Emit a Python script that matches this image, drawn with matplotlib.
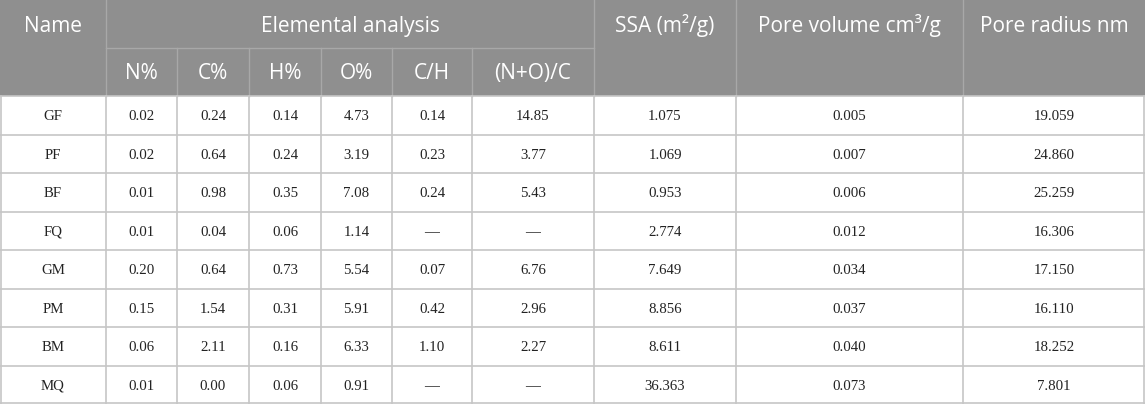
import matplotlib
matplotlib.use("Agg")
import matplotlib.pyplot as plt

names = ["GF", "PF", "BF", "FQ", "GM", "PM", "BM", "MQ"]
n_pct = [0.02, 0.02, 0.01, 0.01, 0.20, 0.15, 0.06, 0.01]
c_pct = [0.24, 0.64, 0.98, 0.04, 0.64, 1.54, 2.11, 0.00]
h_pct = [0.14, 0.24, 0.35, 0.06, 0.73, 0.31, 0.16, 0.06]
o_pct = [4.73, 3.19, 7.08, 1.14, 5.54, 5.91, 6.33, 0.91]
c_h = [0.14, 0.23, 0.24, None, 0.07, 0.42, 1.10, None]
no_c = [14.85, 3.77, 5.43, None, 6.76, 2.96, 2.27, None]
ssa = [1.075, 1.069, 0.953, 2.774, 7.649, 8.856, 8.611, 36.363]
pore_vol = [0.005, 0.007, 0.006, 0.012, 0.034, 0.037, 0.040, 0.073]
pore_rad = [19.059, 24.860, 25.259, 16.306, 17.150, 16.110, 18.252, 7.801]

top_headers = ["Name", "Elemental analysis", "SSA (m²/g)", "Pore volume cm³/g", "Pore radius nm"]
sub_headers = ["N%", "C%", "H%", "O%", "C/H", "(N+O)/C"]

W, H = 1145, 404
col_x = [0, 106, 177, 249, 321, 392, 472, 594, 736, 963, 1145]
h1, h2 = 48, 96
row_h = (H - h2) / len(names)

hdr_bg = "#8f8f8f"
hdr_line = "#a8a8a8"
grid = "#c6c6c6"

fig = plt.figure(figsize=(W / 100, H / 100), dpi=100)
ax = fig.add_axes([0, 0, 1, 1])
ax.set_xlim(0, W)
ax.set_ylim(H, 0)
ax.axis("off")

ax.add_patch(plt.Rectangle((0, 0), W, h2, color=hdr_bg, lw=0, zorder=0))

# header lines
for xi in [col_x[1], col_x[7], col_x[8], col_x[9]]:
    ax.plot([xi, xi], [0, h2], color=hdr_line, lw=1, zorder=1)
ax.plot([col_x[1], col_x[7]], [h1, h1], color=hdr_line, lw=1, zorder=1)
for xi in col_x[2:7]:
    ax.plot([xi, xi], [h1, h2], color=hdr_line, lw=1, zorder=1)

hfont = dict(family=["Open Sans", "DejaVu Sans"], fontsize=15, color="white",
             ha="center", va="baseline")
yb1 = 32
yb2 = 79
ax.text((col_x[0] + col_x[1]) / 2, yb1, top_headers[0], **hfont)
ax.text((col_x[1] + col_x[7]) / 2, yb1, top_headers[1], **hfont)
ax.text((col_x[7] + col_x[8]) / 2, yb1, top_headers[2], **hfont)
ax.text((col_x[8] + col_x[9]) / 2, yb1, top_headers[3], **hfont)
ax.text((col_x[9] + col_x[10]) / 2, yb1, top_headers[4], **hfont)
for i, s in enumerate(sub_headers):
    ax.text((col_x[i + 1] + col_x[i + 2]) / 2, yb2, s, **hfont)

# data grid
for r in range(len(names) + 1):
    y = h2 + r * row_h
    if r == len(names):
        y = H - 0.8
    ax.plot([0, W], [y, y], color=grid, lw=1.2, zorder=1)
for xi in col_x:
    xx = min(max(xi, 0.8), W - 0.8)
    ax.plot([xx, xx], [h2, H], color=grid, lw=1.2, zorder=1)

def fmt(v, d):
    return "—" if v is None else f"{v:.{d}f}"

dfont = dict(family=["Liberation Serif", "DejaVu Serif"], fontsize=10.7,
             color="#222222", ha="center", va="baseline")
cols = [(names, None), (n_pct, 2), (c_pct, 2), (h_pct, 2), (o_pct, 2),
        (c_h, 2), (no_c, 2), (ssa, 3), (pore_vol, 3), (pore_rad, 3)]
for r in range(len(names)):
    yb = h2 + r * row_h + 24.3
    for c, (vals, d) in enumerate(cols):
        s = vals[r] if d is None else fmt(vals[r], d)
        ax.text((col_x[c] + col_x[c + 1]) / 2, yb, s, **dfont)

fig.savefig("out.png", dpi=100)
